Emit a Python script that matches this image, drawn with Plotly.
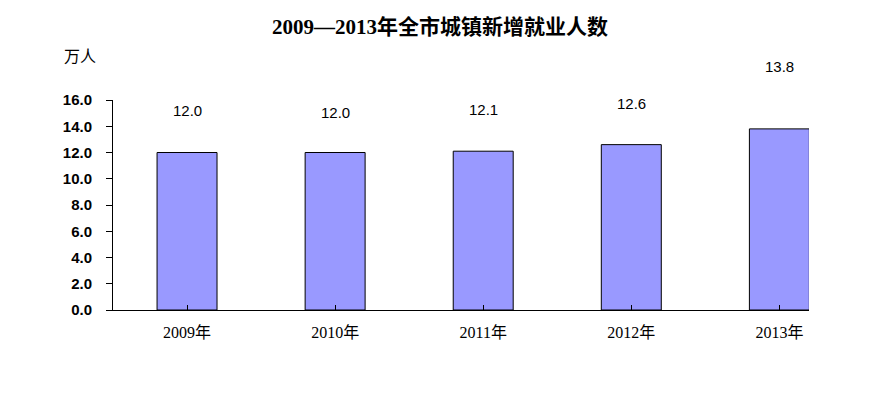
import plotly.graph_objects as go

categories = ["2009年", "2010年", "2011年", "2012年", "2013年"]
values = [12.0, 12.0, 12.1, 12.6, 13.8]
value_labels = ["12.0", "12.0", "12.1", "12.6", "13.8"]
y_ticks = [0, 2, 4, 6, 8, 10, 12, 14, 16]
label_shift = [42, 40, 42, 41, 62]

OFF = 8  # page margin of the browser
W, H = 877 - OFF, 393 - OFF
L, R, T, B = 113 - OFF, 809 - OFF, 100 - OFF, 310 - OFF


def px(x):
    return (x - OFF - L) / (R - L)


def py(y):
    return (B - (y - OFF)) / (B - T)


fig = go.Figure()
fig.add_trace(go.Bar(
    x=list(range(len(categories))), y=values, width=0.405,
    marker=dict(color="#9999FF", line=dict(color="#000000", width=1)),
    hoverinfo="skip",
))

for i, (v, t) in enumerate(zip(values, value_labels)):
    fig.add_annotation(x=i, y=v, text=t, showarrow=False, yshift=label_shift[i],
                       xanchor="center", yanchor="middle",
                       font=dict(family="Liberation Sans, Arial", size=15, color="#000"))

fig.add_annotation(x=px(440), y=py(27), xref="paper", yref="paper",
                   text="<b>2009—2013年全市城镇新增就业人数</b>",
                   showarrow=False, xanchor="center", yanchor="middle",
                   font=dict(family="Liberation Serif, Noto Sans CJK SC", size=21, color="#000"))
fig.add_annotation(x=px(80), y=py(55), xref="paper", yref="paper", text="万人",
                   showarrow=False, xanchor="center", yanchor="middle",
                   font=dict(family="Noto Sans CJK SC", size=16, color="#000"))

fig.update_layout(
    width=W, height=H,
    margin=dict(l=L, r=W - R, t=T, b=H - B, pad=0),
    paper_bgcolor="white", plot_bgcolor="white",
    showlegend=False,
    xaxis=dict(
        range=[-0.5, 4.2], tickmode="array", tickvals=list(range(len(categories))),
        ticktext=categories, showgrid=False, zeroline=False,
        showline=True, linecolor="#000", linewidth=1,
        ticks="inside", tickson="boundaries", ticklen=5, tickcolor="#000",
        ticklabelstandoff=8,
        tickfont=dict(family="Liberation Serif, Noto Sans CJK SC", size=16, color="#000"),
        fixedrange=True,
    ),
    yaxis=dict(
        range=[0, 16], tickmode="array", tickvals=y_ticks,
        ticktext=[f"<b>{v:.1f}</b>" for v in y_ticks],
        showgrid=False, zeroline=False, showline=True, linecolor="#000", linewidth=1,
        ticks="outside", ticklen=6, tickcolor="#000",
        ticklabelstandoff=11,
        tickfont=dict(family="Liberation Sans, Arial", size=15, color="#000"),
        fixedrange=True,
    ),
)

fig.write_html("out.html", config={"displayModeBar": False})
